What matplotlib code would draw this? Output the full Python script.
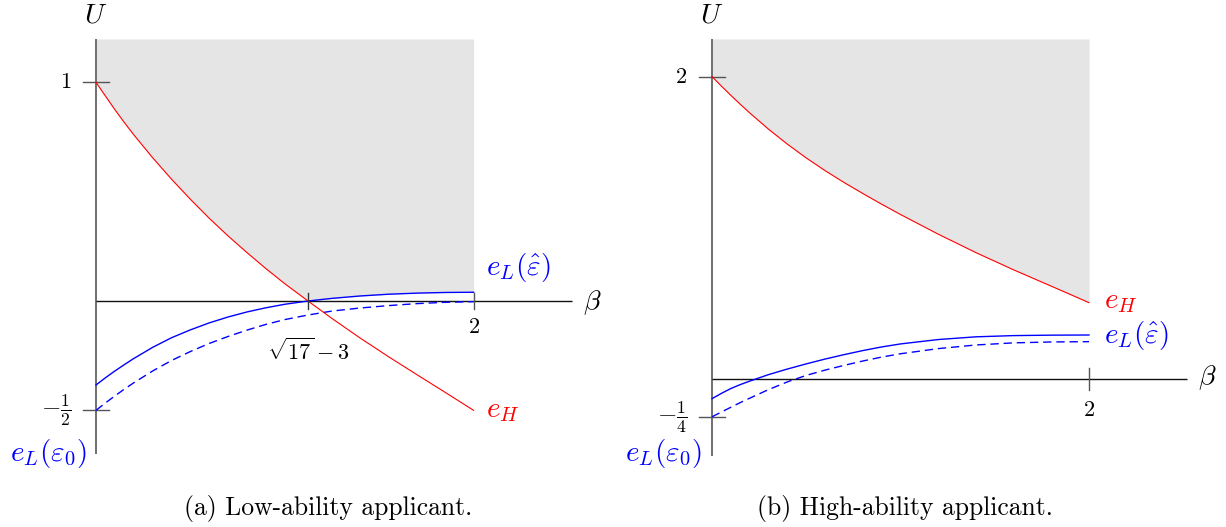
import numpy as np
import matplotlib
matplotlib.use("Agg")
import matplotlib.pyplot as plt

plt.rcParams["mathtext.fontset"] = "cm"
plt.rcParams["lines.scale_dashes"] = False

RED = "#ff0000"
BLUE = "#0000ff"
SHADE = "#e5e5e5"
AXIS_GREY = "#707070"

# (a) low-ability applicant
beta_a = [0, 0.05, 0.1, 0.15, 0.2, 0.3, 0.4, 0.5, 0.6, 0.7, 0.8, 0.9, 1.0,
          1.123, 1.25, 1.4, 1.55, 1.7, 1.85, 2.0]
eH_a = [1.0, 0.937, 0.875, 0.816, 0.76, 0.655, 0.557, 0.465, 0.378, 0.297,
        0.221, 0.148, 0.079, 0.0, -0.08, -0.17, -0.255, -0.337, -0.418, -0.5]
eLhat_a = [-0.384, -0.351, -0.32, -0.291, -0.263, -0.212, -0.168, -0.132,
           -0.100, -0.073, -0.050, -0.031, -0.015, 0.0, 0.012, 0.023, 0.031,
           0.036, 0.039, 0.040]
eL0_a = [-0.500, -0.466, -0.434, -0.403, -0.374, -0.320, -0.272, -0.231,
         -0.194, -0.162, -0.133, -0.107, -0.085, -0.064, -0.046, -0.032,
         -0.021, -0.012, -0.006, -0.003]

# (b) high-ability applicant
beta_b = [0, 0.05, 0.1, 0.15, 0.2, 0.3, 0.4, 0.5, 0.6, 0.7, 0.8, 0.9, 1.0,
          1.2, 1.4, 1.6, 1.8, 2.0]
eH_b = [2.0, 1.937, 1.876, 1.817, 1.760, 1.652, 1.553, 1.462, 1.378, 1.300,
        1.227, 1.156, 1.088, 0.958, 0.836, 0.722, 0.614, 0.505]
eLhat_b = [-0.130, -0.095, -0.063, -0.037, -0.014, 0.029, 0.066, 0.100,
           0.132, 0.161, 0.188, 0.212, 0.232, 0.261, 0.279, 0.287, 0.290,
           0.291]
eL0_b = [-0.250, -0.218, -0.187, -0.156, -0.127, -0.070, -0.019, 0.024,
         0.059, 0.090, 0.119, 0.145, 0.167, 0.201, 0.225, 0.239, 0.245, 0.247]

yticks_a = [(1.0, r"$1$"), (-0.5, r"$-\frac{1}{2}$")]
yticks_b = [(2.0, r"$2$"), (-0.25, r"$-\frac{1}{4}$")]
beta_star = np.sqrt(17) - 3


def draw_panel(ax, beta, eh, el_hat, el_0, ytop, ybot, yticks, xtick_len):
    beta = np.asarray(beta)
    eh = np.asarray(eh)
    el_hat = np.asarray(el_hat)
    el_0 = np.asarray(el_0)

    ax.fill_between(beta, np.maximum(eh, el_hat), ytop, color=SHADE, lw=0)

    # axes
    ax.plot([0, 0], [ybot, ytop], color=AXIS_GREY, lw=1.4, solid_capstyle="butt")
    ax.plot([0, 2.52], [0, 0], color="#111111", lw=1.0, solid_capstyle="butt")
    for y, lab in yticks:
        ax.plot([-0.069, 0.069], [y, y], color="#555555", lw=1.0)
        fs = 18 if "frac" in lab else 16
        ax.text(-0.13, y, lab, ha="right", va="center", fontsize=fs)
    ax.plot([2, 2], [-xtick_len, xtick_len], color="#555555", lw=1.0)

    ax.plot(beta, el_0, color=BLUE, lw=1.0, dashes=(6.0, 3.5))
    ax.plot(beta, el_hat, color=BLUE, lw=1.0)
    ax.plot(beta, eh, color=RED, lw=0.8)

    ax.text(0, ytop + 0.04 * (ytop - ybot), r"$U$", ha="center",
            va="baseline", fontsize=20)
    ax.text(2.58, -0.035, r"$\beta$", ha="left", va="baseline", fontsize=20)


fig = plt.figure(figsize=(12.26, 5.27), dpi=100)

ax_a = fig.add_axes([0, 0, 0.5, 1])
ax_a.set_xlim(-0.5085, 2.7384)
ax_a.set_ylim(-1.0334, 1.3763)
ax_a.axis("off")
draw_panel(ax_a, beta_a, eH_a, eLhat_a, eL0_a, 1.198, -0.70, yticks_a, 0.035)
ax_a.plot([beta_star, beta_star], [-0.035, 0.035], color="#333333", lw=1.0)
ax_a.text(beta_star, -0.229, r"$\sqrt{17}-3$", ha="center", va="center",
          fontsize=16)
ax_a.text(2, -0.121, r"$2$", ha="center", va="center", fontsize=16)
ax_a.text(2.068, -0.53, r"$e_H$", color=RED, ha="left", va="baseline",
          fontsize=21)
ax_a.text(2.068, 0.119, r"$e_L(\hat{\varepsilon})$", color=BLUE, ha="left",
          va="baseline", fontsize=21)
ax_a.text(-0.05, -0.732, r"$e_L(\varepsilon_0)$", color=BLUE, ha="right",
          va="baseline", fontsize=21)

ax_b = fig.add_axes([0.5, 0, 0.5, 1])
ax_b.set_xlim(-0.5252, 2.7268)
ax_b.set_ylim(-0.9788, 2.5066)
ax_b.axis("off")
draw_panel(ax_b, beta_b, eH_b, eLhat_b, eL0_b, 2.249, -0.51, yticks_b, 0.073)
ax_b.text(2, -0.205, r"$2$", ha="center", va="center", fontsize=16)
ax_b.text(2.08, 0.47, r"$e_H$", color=RED, ha="left", va="baseline",
          fontsize=21)
ax_b.text(2.08, 0.238, r"$e_L(\hat{\varepsilon})$", color=BLUE, ha="left",
          va="baseline", fontsize=21)
ax_b.text(-0.053, -0.542, r"$e_L(\varepsilon_0)$", color=BLUE, ha="right",
          va="baseline", fontsize=21)

fig.text(328 / 1226, 1 - 515 / 527, "(a) Low-ability applicant.",
         family="cmr10", fontsize=18.5, ha="center", va="baseline")
fig.text(905 / 1226, 1 - 515 / 527, "(b) High-ability applicant.",
         family="cmr10", fontsize=18.5, ha="center", va="baseline")

fig.savefig("out.png", dpi=100, facecolor="white")
